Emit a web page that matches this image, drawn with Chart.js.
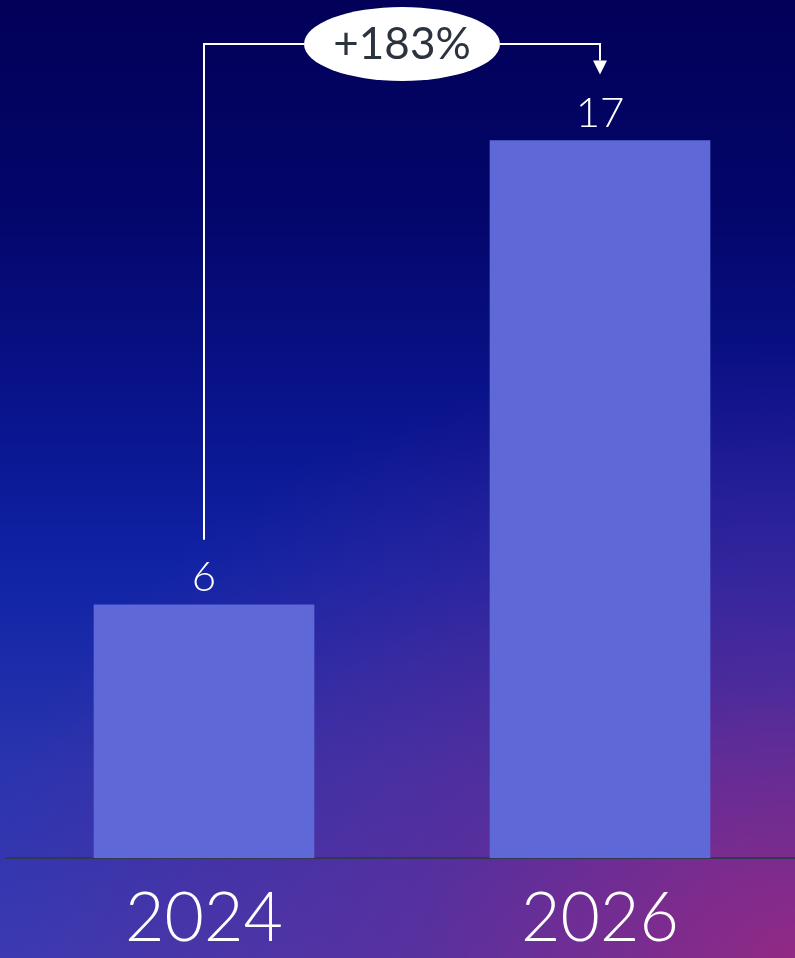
<!DOCTYPE html>
<html>
<head>
<meta charset="utf-8">
<script src="https://cdn.jsdelivr.net/npm/chart.js@4"></script>
<style>
  html, body { margin: 0; padding: 0; overflow: hidden; }
  body {
    width: 795px; height: 958px;
    background:
      radial-gradient(ellipse 820px 620px at 100% 100%, rgba(150, 40, 130, 0.95) 0%, rgba(120, 40, 140, 0.5) 45%, rgba(80, 30, 140, 0) 100%),
      linear-gradient(to bottom, #020058 0%, #03066a 22%, #0a1590 45%, #1024a6 60%, #2a34ae 80%, #3a3ab2 100%);
  }
  .chartBox { width: 798px; height: 958px; }
</style>
</head>
<body>
<div class="chartBox"><canvas id="bar-chart"></canvas></div>
<script>
const years = ['2024', '2026'];
const values = [6, 17];
const growthLabel = '+183%';
const yMax = 20;

// annotation: value labels, connector and growth bubble
const annotate = {
	id: 'annotate',
	afterDatasetsDraw(chart) {
		const ctx = chart.ctx;
		const bars = chart.getDatasetMeta(0).data;
		ctx.save();
		ctx.fillStyle = '#ffffff';
		ctx.textAlign = 'center';
		ctx.textBaseline = 'alphabetic';
		ctx.font = '300 42px Lato';
		bars.forEach((b, i) => {
			ctx.fillText(String(values[i]), b.x, b.y - 14);
		});

		const a = bars[0], c = bars[1];
		const lineY = 44;
		const midX = (a.x + c.x) / 2;
		const rx = 98, ry = 37;
		ctx.strokeStyle = '#ffffff';
		ctx.lineWidth = 2;
		ctx.beginPath();
		ctx.moveTo(a.x, a.y - 65);
		ctx.lineTo(a.x, lineY);
		ctx.lineTo(midX - rx, lineY);
		ctx.moveTo(midX + rx, lineY);
		ctx.lineTo(c.x, lineY);
		ctx.lineTo(c.x, c.y - 80);
		ctx.stroke();
		ctx.beginPath();
		ctx.moveTo(c.x - 7, c.y - 80);
		ctx.lineTo(c.x + 7, c.y - 80);
		ctx.lineTo(c.x, c.y - 66);
		ctx.closePath();
		ctx.fill();

		ctx.beginPath();
		ctx.ellipse(midX, lineY, rx, ry, 0, 0, Math.PI * 2);
		ctx.fill();
		ctx.fillStyle = '#2b333f';
		ctx.font = '400 44px Lato';
		ctx.textBaseline = 'middle';
		ctx.fillText(growthLabel, midX, lineY + 1);
		ctx.restore();
	}
};

const ctx = document.getElementById('bar-chart').getContext('2d');
new Chart(ctx, {
	type: 'bar',
	data: {
		labels: years,
		datasets: [
			{
				data: values,
				backgroundColor: '#5e68d6',
				borderWidth: 0,
				barThickness: 220,
			},
		],
	},
	options: {
		responsive: true,
		maintainAspectRatio: false,
		animation: false,
		layout: { padding: { top: 14, left: 6, right: 0, bottom: 0 } },
		plugins: { legend: { display: false }, tooltip: { enabled: false } },
		scales: {
			y: { display: false, min: 0, max: yMax },
			x: {
				grid: { display: false },
				border: { display: true, color: '#34384f', width: 2 },
				ticks: {
					color: '#ffffff',
					font: { family: 'Lato', size: 68, weight: '300' },
					padding: 12,
				},
				afterFit(scale) { scale.height = 100; },
			},
		},
	},
	plugins: [annotate],
});
</script>
</body>
</html>
